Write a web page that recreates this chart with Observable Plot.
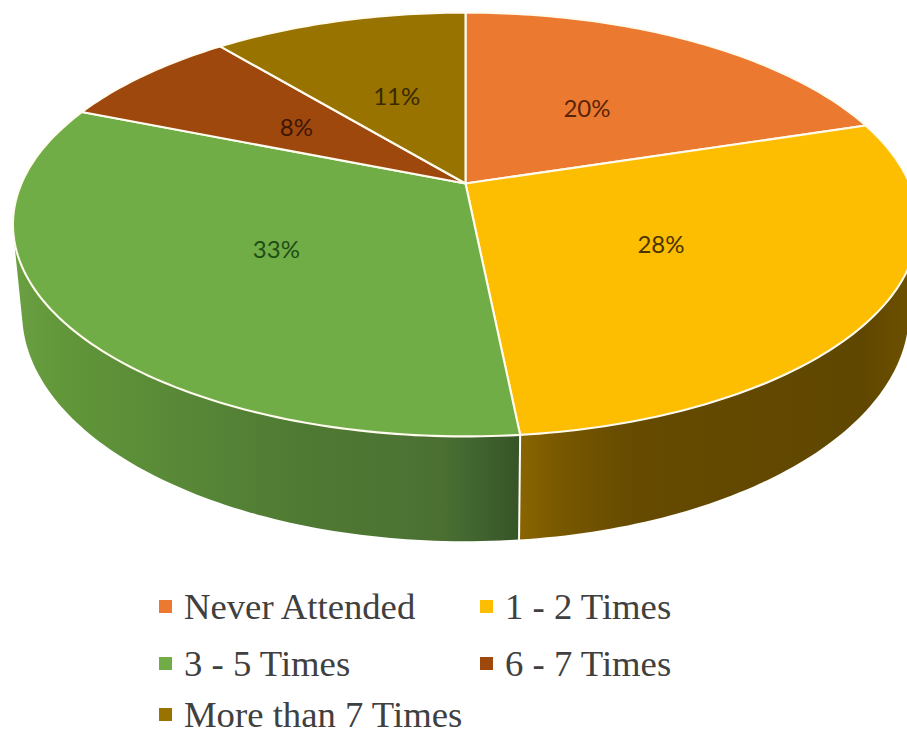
<!DOCTYPE html>
<html>
<head>
<meta charset="utf-8">
<script src="https://cdn.jsdelivr.net/npm/d3@7"></script>
<script src="https://cdn.jsdelivr.net/npm/@observablehq/plot@0.6"></script>
<style>
  html, body { margin: 0; padding: 0; background: #fff; overflow: hidden; }
  svg { display: block; }
  #key {
    display: grid;
    grid-template-columns: 321px 321px;
    grid-template-rows: 57.5px 56.5px 44.5px;
    padding-left: 159px;
    font: 36.7px "Liberation Serif", serif;
    color: #404040;
  }
  #key div { display: flex; align-items: center; white-space: nowrap; }
  #key i { width: 13px; height: 13px; margin-right: 12px; flex: none; }
</style>
</head>
<body>
<div id="chart"></div>
<div id="key"></div>
<script>
// Attendance shares, clockwise from twelve o'clock
const categories = ["Never Attended", "1 - 2 Times", "3 - 5 Times", "6 - 7 Times", "More than 7 Times"];
const shares = [20, 28, 33, 8, 11];
const sliceColors = ["#EB7A30", "#FDBD00", "#70AD47", "#9E480E", "#997300"];
const labelInks = ["#5A2408", "#4A3400", "#1F4E14", "#3E1604", "#3A2A00"];

// Layout of the tilted disc, in plot units
const view = {width: 907, height: 578, cx: 465, k: 0.1934};
const topDisc = {cy: 183, rx: 444, ry: 204};
const baseDisc = {cy: 268, rx: 435, ry: 220};

// Walk around the disc with perspective: the far side shrinks, the near side grows
function project(disc, turn, radius = 1) {
  const raw = turn * 2 * Math.PI;
  const a = raw + 0.0131 * (1 - Math.cos(raw));
  const u = radius * Math.sin(a);
  const v = radius * Math.cos(a);
  const w = 1 + view.k * v;
  return {x: view.cx + disc.rx * u / w, y: disc.cy - disc.ry * v / w};
}

function arc(disc, from, to) {
  const n = Math.max(2, Math.ceil((to - from) * 360));
  return d3.range(n + 1).map((i) => project(disc, from + (to - from) * i / n));
}

let running = 0;
const slices = categories.map((category, i) => {
  const from = running / 100;
  running += shares[i];
  return {category, from, to: running / 100, share: shares[i], ink: labelInks[i]};
});

const topOutlines = slices.flatMap((s) => {
  const apex = {x: view.cx, y: topDisc.cy};
  return [apex, ...arc(topDisc, s.from, s.to), apex].map((p) => ({...p, category: s.category}));
});

// Wall of a slice: everything between its rim on the top disc and on the base disc
function wall(s) {
  const pts = [...arc(topDisc, s.from, s.to), ...arc(baseDisc, s.from, s.to)];
  const hull = d3.polygonHull(pts.map((p) => [p.x, p.y]));
  return [...hull, hull[0]].map(([x, y]) => ({x, y}));
}

const labels = slices.map((s) => ({
  ...project(topDisc, (s.from + s.to) / 2, 0.5),
  text: `${s.share}%`,
  ink: s.ink
}));

// Shaded side walls
const shades = {
  wallGreen: [[0, "#6CA345"], [0.07, "#619639"], [0.22, "#578637"], [0.33, "#4F7A33"], [0.45, "#4C7333"], [0.49, "#4A6F31"], [0.52, "#426630"], [0.57, "#375527"]],
  wallBrown: [[0.57, "#8A6500"], [0.62, "#775800"], [0.7, "#654A00"], [0.95, "#604700"], [1, "#6C5000"]]
};

function gradients() {
  const ns = "http://www.w3.org/2000/svg";
  const defs = document.createElementNS(ns, "defs");
  for (const [id, stops] of Object.entries(shades)) {
    const g = document.createElementNS(ns, "linearGradient");
    g.setAttribute("id", id);
    g.setAttribute("gradientUnits", "userSpaceOnUse");
    g.setAttribute("x1", 0);
    g.setAttribute("x2", view.width);
    g.setAttribute("y1", 0);
    g.setAttribute("y2", 0);
    for (const [offset, color] of stops) {
      const stop = document.createElementNS(ns, "stop");
      stop.setAttribute("offset", offset);
      stop.setAttribute("stop-color", color);
      g.appendChild(stop);
    }
    defs.appendChild(g);
  }
  return defs;
}

const frontSeam = slices[1].to;

const chart = Plot.plot({
  width: view.width,
  height: view.height,
  margin: 0,
  x: {domain: [0, view.width], axis: null},
  y: {domain: [view.height, 0], axis: null},
  color: {domain: categories, range: sliceColors},
  marks: [
    gradients,
    Plot.line(wall(slices[2]), {x: "x", y: "y", fill: "url(#wallGreen)", stroke: "none", clip: true}),
    Plot.line(wall(slices[1]), {x: "x", y: "y", fill: "url(#wallBrown)", stroke: "none", clip: true}),
    Plot.line([project(topDisc, frontSeam), project(baseDisc, frontSeam)], {
      x: "x", y: "y", stroke: "#fff", strokeWidth: 2
    }),
    Plot.line(topOutlines, {
      x: "x", y: "y", z: "category", fill: "category",
      stroke: "#FFFBEF", strokeWidth: 2.1, clip: true
    }),
    Plot.text(labels, {
      x: "x", y: "y", text: "text",
      fill: {value: "ink", scale: null},
      fontSize: 24, fontFamily: "Lato, 'Open Sans', sans-serif", dy: 2
    })
  ]
});
document.getElementById("chart").appendChild(chart);

// Legend beneath the plot
const key = document.getElementById("key");
categories.forEach((name, i) => {
  const row = document.createElement("div");
  const swatch = document.createElement("i");
  swatch.style.background = sliceColors[i];
  row.appendChild(swatch);
  row.appendChild(document.createTextNode(name));
  key.appendChild(row);
});
</script>
</body>
</html>
